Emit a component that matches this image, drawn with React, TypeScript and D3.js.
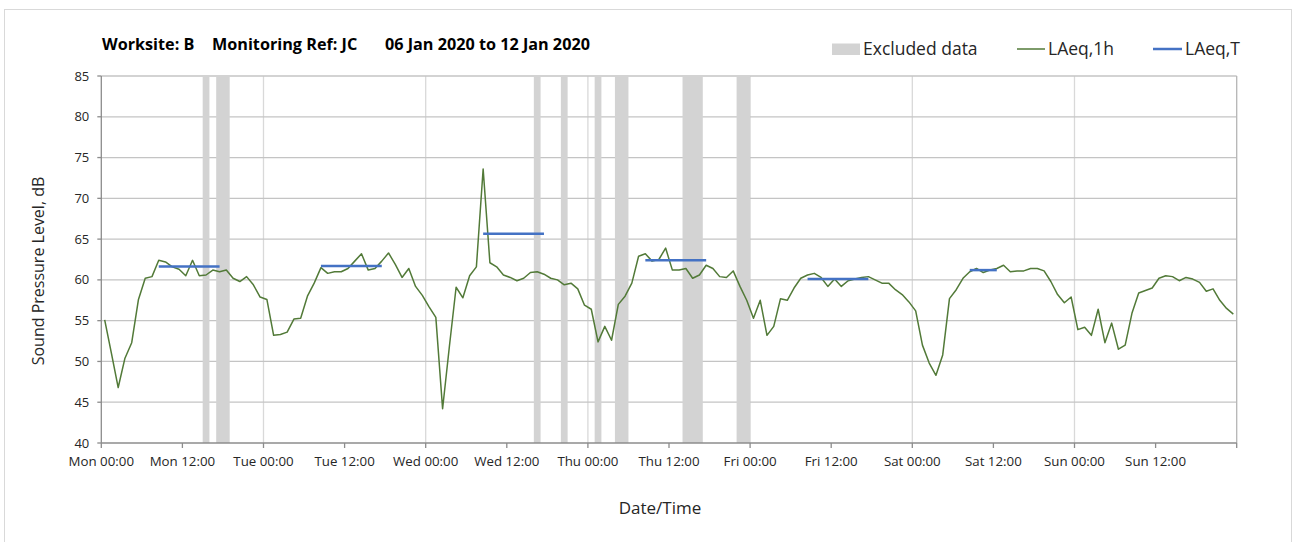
import React from "react";
import * as d3 from "d3";

// Hourly LAeq,1h values (hour midpoints 00:30 Mon ... 23:30 Sun)
const laeq1hMon = [55.1, 51.0, 46.8, 50.4, 52.3, 57.6, 60.2, 60.4, 62.4, 62.2, 61.6, 61.3, 60.5, 62.4, 60.5, 60.6, 61.2, 61.0, 61.2, 60.2, 59.8, 60.4, 59.4, 57.9];
const laeq1hTue = [57.6, 53.2, 53.3, 53.6, 55.2, 55.3, 58.0, 59.6, 61.5, 60.8, 61.0, 61.0, 61.4, 62.3, 63.2, 61.2, 61.4, 62.3, 63.3, 61.9, 60.3, 61.4, 59.2, 58.1];
const laeq1hWed = [56.7, 55.4, 44.2, 51.8, 59.1, 57.8, 60.5, 61.6, 73.6, 62.1, 61.6, 60.6, 60.3, 59.9, 60.2, 60.9, 61.0, 60.7, 60.2, 60.0, 59.4, 59.6, 58.9, 56.9];
const laeq1hThu = [56.4, 52.4, 54.3, 52.6, 57.0, 58.0, 59.6, 62.9, 63.2, 62.3, 62.5, 63.9, 61.2, 61.2, 61.4, 60.2, 60.6, 61.8, 61.4, 60.4, 60.3, 61.1, 59.2, 57.5];
const laeq1hFri = [55.3, 57.5, 53.2, 54.3, 57.7, 57.5, 59.0, 60.2, 60.6, 60.8, 60.3, 59.2, 60.1, 59.2, 59.9, 60.1, 60.3, 60.4, 60.0, 59.6, 59.6, 58.8, 58.2, 57.3];
const laeq1hSat = [56.2, 52.0, 49.8, 48.3, 50.8, 57.7, 58.8, 60.2, 61.0, 61.4, 60.9, 61.2, 61.4, 61.8, 61.0, 61.1, 61.1, 61.4, 61.4, 61.1, 59.8, 58.2, 57.2, 57.9];
const laeq1hSun = [53.9, 54.2, 53.2, 56.4, 52.3, 54.7, 51.5, 52.0, 55.9, 58.4, 58.7, 59.0, 60.2, 60.5, 60.4, 59.9, 60.3, 60.1, 59.7, 58.6, 58.9, 57.5, 56.5, 55.8];

// LAeq,T daytime periods: [startHour, endHour, value] (hours since Mon 00:00)
const laeqTPeriods: [number, number, number][] = [
  [8.5, 17.5, 61.65],
  [32.5, 41.5, 61.7],
  [56.5, 65.5, 65.65],
  [80.5, 89.5, 62.4],
  [104.5, 113.5, 60.1],
  [128.5, 132.5, 61.2],
];

// Excluded data periods [startHour, endHour]
const excludedPeriods: [number, number][] = [
  [15, 16], [17, 19], [64, 65], [68, 69], [73, 74], [76, 78], [86, 89], [94, 96],
];

const xTickHours = [0, 12, 24, 36, 48, 60, 72, 84, 96, 108, 120, 132, 144, 156, 168];
const dayNames = ["Mon", "Tue", "Wed", "Thu", "Fri", "Sat", "Sun"];
const yTicks = [40, 45, 50, 55, 60, 65, 70, 75, 80, 85];

const FONT = "'Open Sans', sans-serif";

export default function App() {
  const W = 1299, H = 542;
  const left = 101.3, right = 1236.7, top = 76, bottom = 443;
  const x = d3.scaleLinear().domain([0, 168]).range([left, right]);
  const y = d3.scaleLinear().domain([40, 85]).range([bottom, top]);

  const hourly = [...laeq1hMon, ...laeq1hTue, ...laeq1hWed, ...laeq1hThu, ...laeq1hFri, ...laeq1hSat, ...laeq1hSun];
  const line = d3.line<number>().x((_, i) => x(i + 0.5)).y((d) => y(d));

  const label = (h: number) => h >= 168 ? "" : `${dayNames[Math.floor(h / 24)]} ${h % 24 === 0 ? "00:00" : "12:00"}`;

  return (
    <svg width={W} height={H} style={{ position: "absolute", left: 0, top: 0 }} fontFamily={FONT}>
      <rect x={0} y={0} width={W} height={H} fill="#fff" />
      <rect x={4.5} y={9.5} width={1287} height={540} fill="none" stroke="#d9d9d9" />

      {/* vertical day gridlines */}
      {xTickHours.filter((h) => h % 24 === 0 && h > 0 && h < 168).map((h) => (
        <line key={"v" + h} x1={x(h)} x2={x(h)} y1={top} y2={bottom} stroke="#d9d9d9" strokeWidth={1.3} />
      ))}
      {/* horizontal gridlines */}
      {yTicks.filter((v) => v > 40).map((v) => (
        <line key={"h" + v} x1={left} x2={right} y1={y(v)} y2={y(v)} stroke="#c4c4c4" strokeWidth={1.3} />
      ))}
      <line x1={right} x2={right} y1={top} y2={bottom} stroke="#b5b5b5" strokeWidth={1.3} />

      {/* excluded bands */}
      {excludedPeriods.map(([a, b], i) => (
        <rect key={"e" + i} x={x(a)} y={top} width={x(b) - x(a)} height={bottom - top} fill="#d3d3d3" />
      ))}

      {/* axes */}
      <line x1={left} x2={left} y1={top} y2={bottom} stroke="#8c8c8c" strokeWidth={1.3} />
      <line x1={left} x2={right} y1={bottom} y2={bottom} stroke="#8c8c8c" strokeWidth={1.3} />
      {yTicks.map((v) => (
        <g key={"yt" + v}>
          <line x1={left - 4} x2={left} y1={y(v)} y2={y(v)} stroke="#8c8c8c" strokeWidth={1.3} />
          <text x={left - 12} y={y(v)} dy="0.35em" textAnchor="end" fontSize={13} fill="#262626">{v}</text>
        </g>
      ))}
      {xTickHours.map((h) => (
        <g key={"xt" + h}>
          <line x1={x(h)} x2={x(h)} y1={bottom} y2={bottom + 5} stroke="#8c8c8c" strokeWidth={1.3} />
          <text x={x(h)} y={bottom + 23} textAnchor="middle" fontSize={13.3} fill="#262626">{label(h)}</text>
        </g>
      ))}

      {/* series */}
      <path d={line(hourly) || ""} fill="none" stroke="#527a38" strokeWidth={1.5} strokeLinejoin="round" />
      {laeqTPeriods.map(([a, b, v], i) => (
        <line key={"t" + i} x1={x(a)} x2={x(b)} y1={y(v)} y2={y(v)} stroke="#4472c4" strokeWidth={2.5} />
      ))}

      {/* axis titles */}
      <text x={660} y={514} textAnchor="middle" fontSize={17} fill="#262626">Date/Time</text>
      <text transform={`translate(44, 271) rotate(-90)`} textAnchor="middle" fontSize={16} fill="#262626">Sound Pressure Level, dB</text>

      {/* title */}
      <g fontWeight="bold" fontSize={16.2} fill="#000">
        <text x={102} y={50}>Worksite: B</text>
        <text x={212} y={50}>Monitoring Ref: JC</text>
        <text x={385} y={50}>06 Jan 2020 to 12 Jan 2020</text>
      </g>

      {/* legend */}
      <g fontSize={17.5} fill="#262626">
        <rect x={832} y={43.5} width={28} height={11.5} fill="#d3d3d3" />
        <text x={863} y={55}>Excluded data</text>
        <line x1={1017} x2={1045} y1={49} y2={49} stroke="#527a38" strokeWidth={1.5} />
        <text x={1048} y={55}>LAeq,1h</text>
        <line x1={1153} x2={1182} y1={49} y2={49} stroke="#4472c4" strokeWidth={2.5} />
        <text x={1185} y={55}>LAeq,T</text>
      </g>
    </svg>
  );
}
